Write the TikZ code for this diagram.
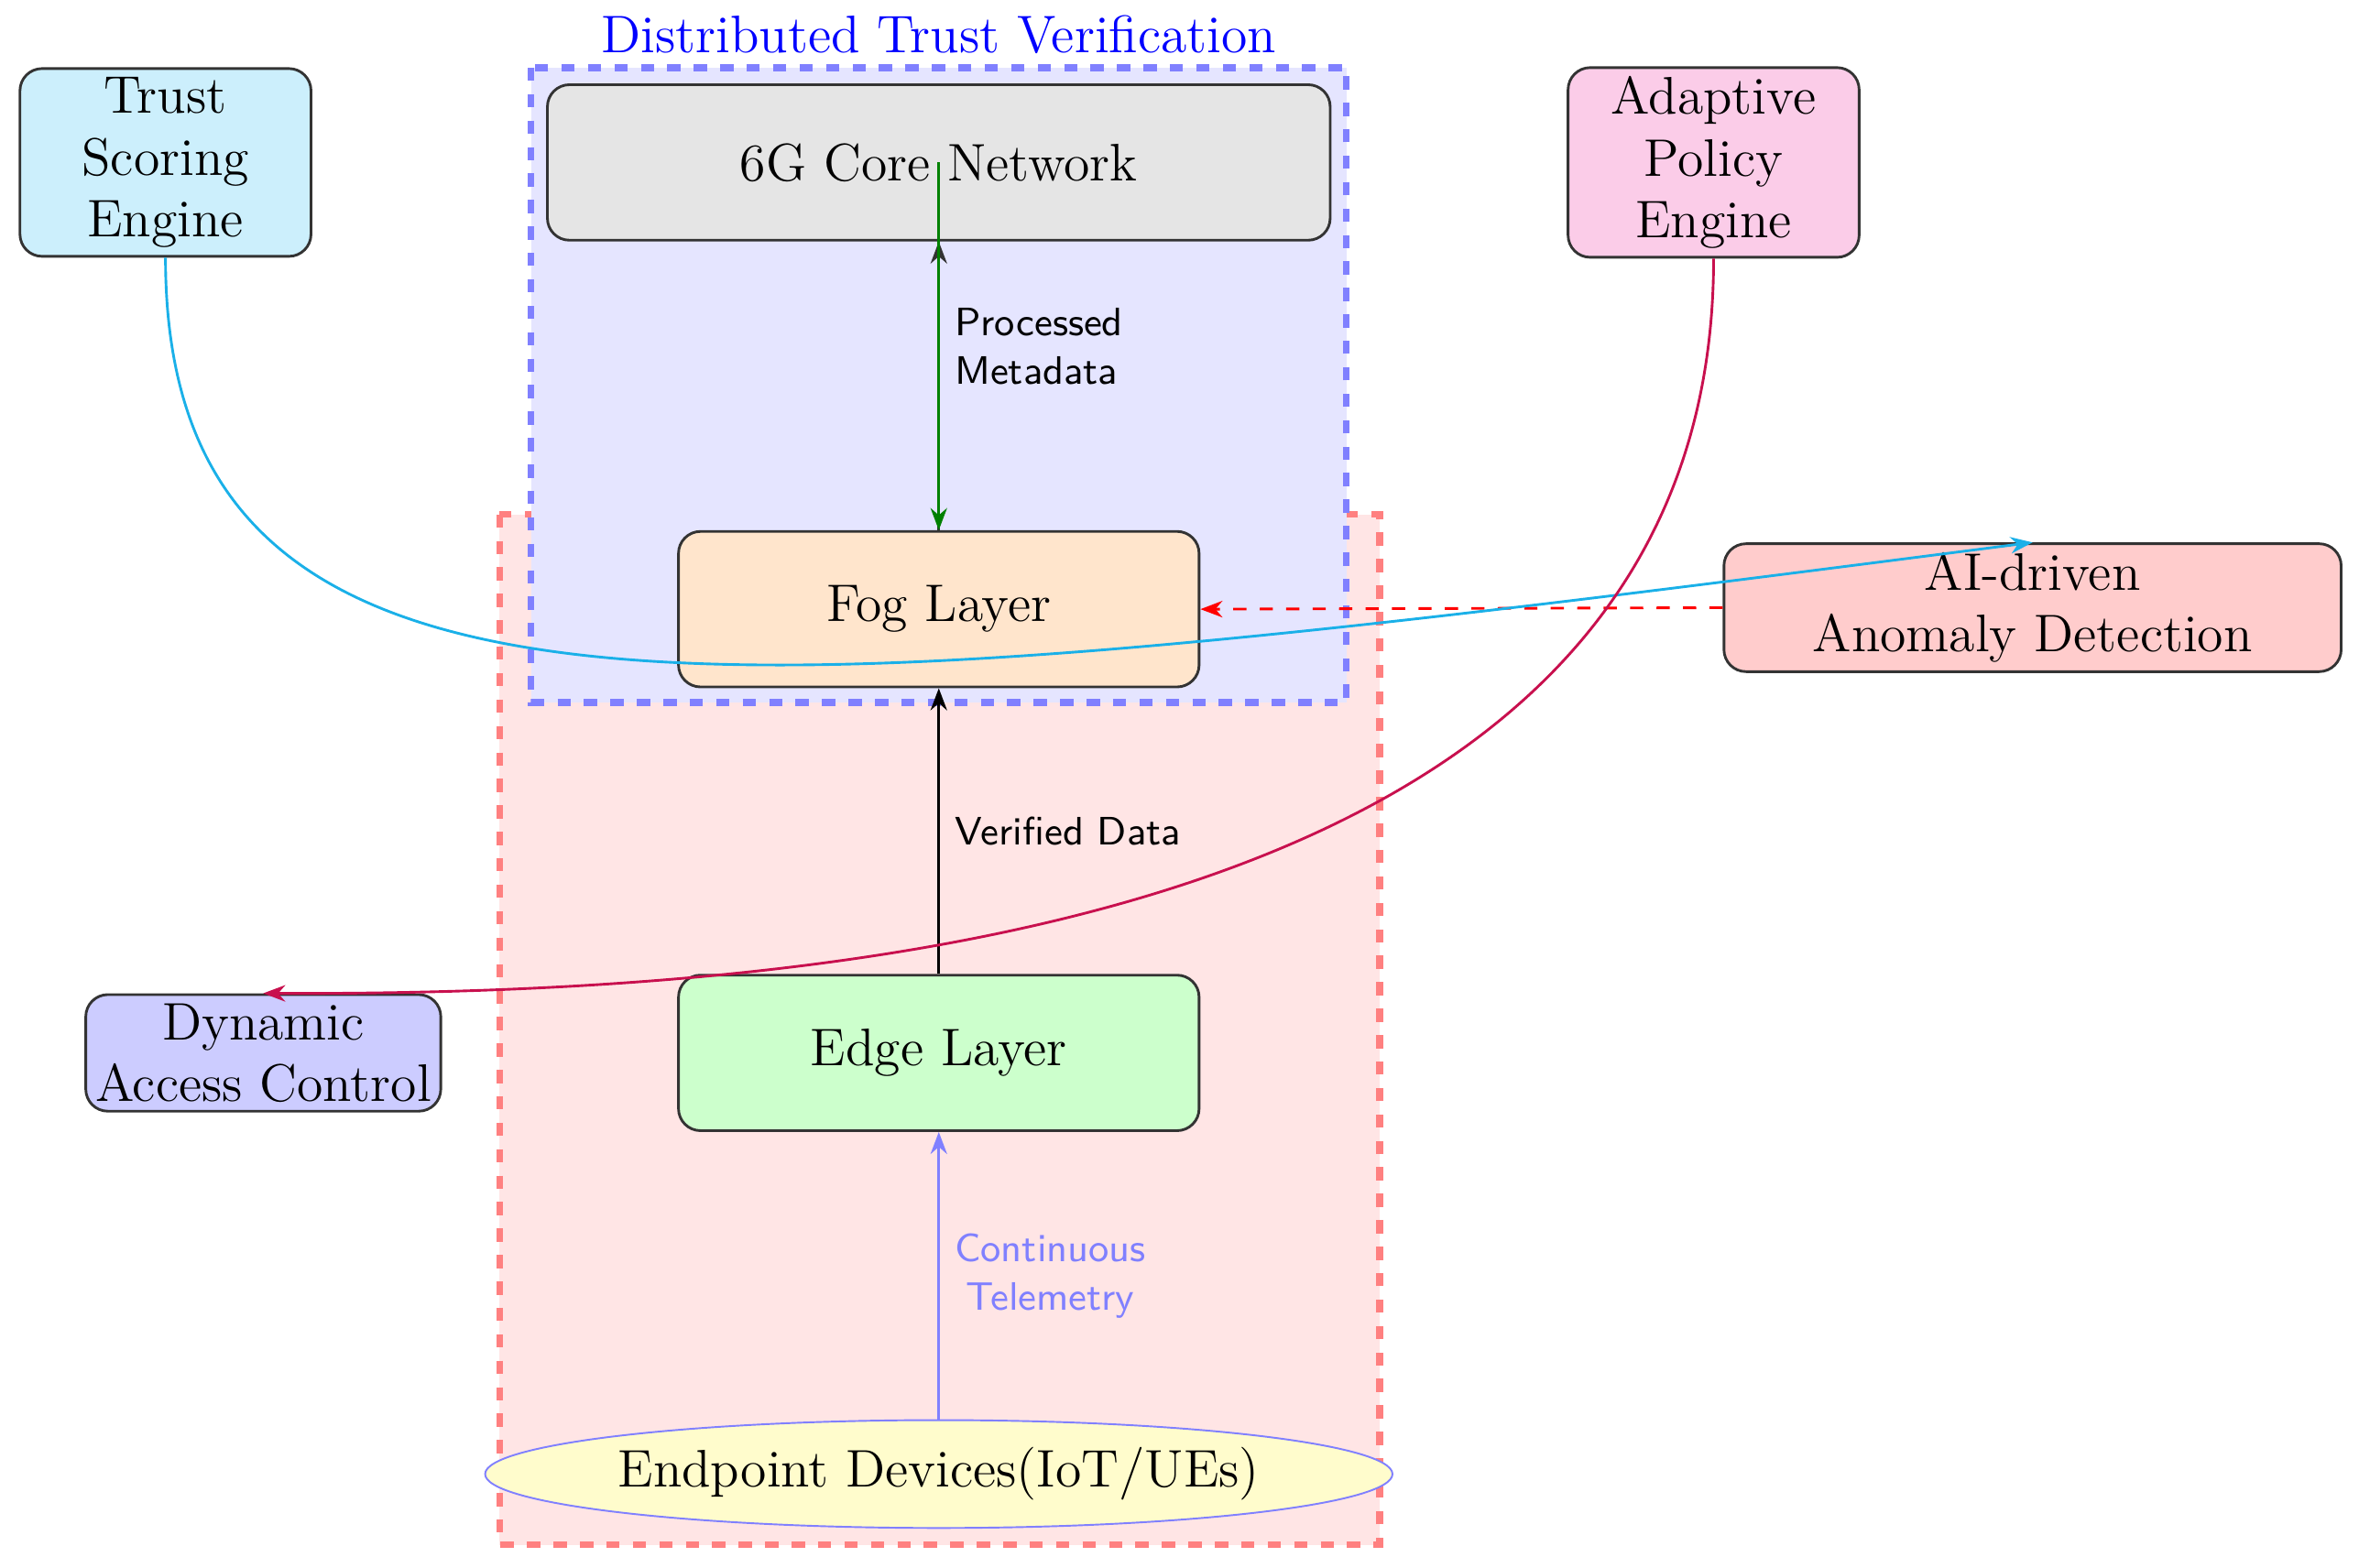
\documentclass[tikz,border=0pt]{standalone}
\usepackage{tikz}
\usetikzlibrary{shapes.geometric, arrows.meta, positioning, calc}
\definecolor{policyRed}{HTML}{C8104E}
\definecolor{scoreCyan}{HTML}{1AB0E8}
\begin{document}
\begin{tikzpicture}[x=0.012cm,y=-0.012cm,
    layer/.style={rectangle,rounded corners=5pt,draw=black!80,semithick,align=center,font=\large,inner sep=2pt},
    engine/.style={rectangle,rounded corners=5pt,draw=black!80,semithick,align=center,font=\large,inner sep=2pt},
    flow/.style={-{Stealth[length=5pt]},semithick},
    lbl/.style={font=\sffamily\small,align=left,right}
]
    \useasboundingbox (0,0) rectangle (1568,1042);
    % Zones
    \draw[red!50,fill=red!10,dashed,line width=1.5pt] (332,342) rectangle (917,1027);
    \draw[blue!50,fill=blue!10,dashed,line width=1.5pt] (353,45) rectangle (895,467);
    \node[blue,font=\large] (zone) at (624,23) {Distributed Trust Verification};

    % Layers
    \node[layer,fill=gray!20,minimum width=6.24cm,minimum height=1.24cm] (core) at (624,108) {6G Core Network};
    \node[layer,fill=orange!20,minimum width=4.15cm,minimum height=1.24cm] (fog) at (624,405) {Fog Layer};
    \node[layer,fill=green!20,minimum width=4.15cm,minimum height=1.24cm] (edge) at (624,700) {Edge Layer};
    \node[ellipse,draw=blue!50,fill=yellow!20,inner sep=0pt,minimum width=6.74cm,minimum height=0.86cm,font=\large] (dev) at (624,980) {Endpoint Devices(IoT/UEs)};

    % Engines
    \node[engine,fill=cyan!20,text width=2.1cm,minimum width=2.32cm,minimum height=1.43cm] (trust) at (110,108) {Trust\\Scoring\\Engine};
    \node[engine,fill=magenta!20,text width=2.1cm,minimum width=2.32cm,minimum height=1.43cm] (policy) at (1139,108) {Adaptive\\Policy\\Engine};
    \node[engine,fill=red!20,minimum width=4.92cm,minimum height=1cm] (ai) at (1351,404) {AI-driven\\Anomaly Detection};
    \node[engine,fill=blue!20,minimum width=2.83cm,minimum height=0.92cm] (dac) at (175,700) {Dynamic\\Access Control};

    % Data flow
    \draw[flow,blue!50] (dev.north) -- node[lbl,blue!50,align=center] {Continuous\\Telemetry} (edge.south);
    \draw[flow] (edge.north) -- node[lbl] {Verified Data} (fog.south);
    \draw[flow,black!80] (fog.north) -- (core.south);
    \draw[flow,green!50!black] (core.center) -- node[lbl,black] {Processed\\Metadata} (fog.north);
    \draw[flow,red,dashed] (ai.west) -- (fog.east);

    % Control loops
    \draw[flow,scoreCyan] (trust.south) .. controls (110,520) and (500,470) .. (ai.north);
    \draw[flow,policyRed] (policy.south) .. controls (1139,600) and (600,662) .. (dac.north);
\end{tikzpicture}
\end{document}
